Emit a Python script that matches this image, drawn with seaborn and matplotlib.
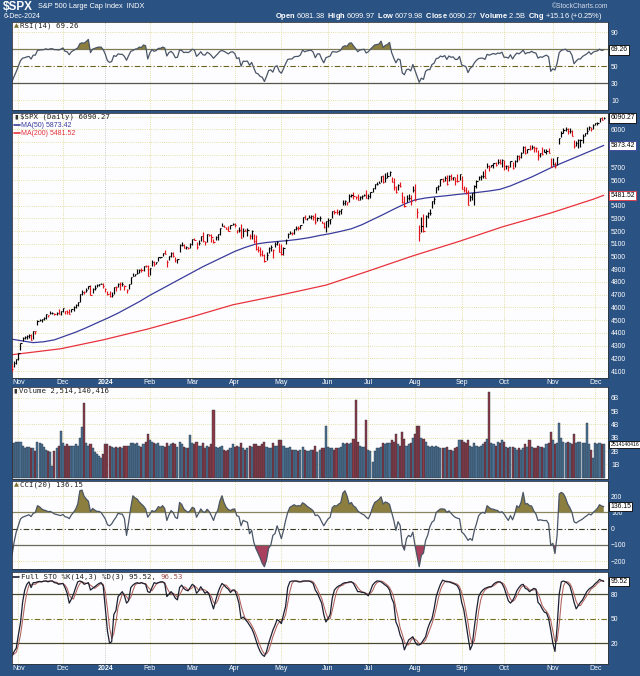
import numpy as np
import pandas as pd
import matplotlib
matplotlib.use("Agg")
import matplotlib.pyplot as plt
import matplotlib.transforms as mtransforms
import seaborn as sns

# ---------------------------------------------------------------- data
first_day = "2023-10-27"
last_day = "2024-12-06"
market_holidays = ["2023-11-23", "2023-12-25", "2024-01-01", "2024-01-15", "2024-02-19",
                   "2024-03-29", "2024-05-27", "2024-06-19", "2024-07-04", "2024-09-02",
                   "2024-11-28"]
prev_close_before_first = 4137.23

closes = [
    4117.37, 4166.82, 4193.80,
    4237.86, 4317.78, 4358.34, 4365.98, 4378.38, 4382.78, 4347.35, 4415.24, 4411.55, 4495.70,
    4502.88, 4508.24, 4514.02, 4547.38, 4538.19, 4556.62, 4559.34, 4550.43, 4554.89, 4550.58, 4567.80,
    4594.63, 4569.78, 4567.18, 4549.34, 4585.59, 4604.37, 4622.44, 4643.70, 4707.09, 4719.55,
    4719.19, 4740.56, 4768.37, 4698.35, 4746.75, 4754.63, 4774.75, 4781.58, 4783.35, 4769.83,
    4742.83, 4704.81, 4688.68, 4697.24, 4763.54, 4756.50, 4783.45, 4780.24, 4783.83, 4765.98,
    4739.21, 4780.94, 4839.81, 4850.43, 4864.60, 4868.55, 4894.16, 4890.97, 4927.93, 4924.97, 4845.65,
    4906.19, 4958.61, 4942.81, 4954.23, 4995.06, 4997.91, 5026.61, 5021.84, 4953.17, 5000.62,
    5029.73, 5005.57, 4975.51, 4981.80, 5087.03, 5088.80, 5069.53, 5078.18, 5069.76, 5096.27,
    5137.08, 5130.95, 5078.65, 5104.76, 5157.36, 5123.69, 5117.94, 5175.27, 5165.31, 5150.48,
    5117.09, 5149.42, 5178.51, 5224.62, 5241.53, 5234.18, 5218.19, 5203.58, 5248.49, 5254.35,
    5243.77, 5205.81, 5211.49, 5147.21, 5204.34, 5202.39, 5209.91, 5160.64, 5199.06, 5123.41, 5061.82,
    5051.41, 5022.21, 5011.12, 4967.23, 5010.60, 5070.55, 5071.63, 5048.42, 5099.96, 5116.17, 5035.69,
    5018.39, 5064.20, 5127.79, 5180.74, 5187.70, 5187.67, 5214.08, 5222.68, 5221.42, 5246.68, 5308.15,
    5297.10, 5303.27, 5308.13, 5321.41, 5307.01, 5267.84, 5304.72, 5306.04, 5266.95, 5235.48, 5277.51,
    5283.40, 5291.34, 5354.03, 5352.96, 5346.99, 5360.79, 5375.32, 5421.03, 5433.74, 5431.60,
    5473.23, 5487.03, 5473.17, 5464.62, 5447.87, 5469.30, 5477.90, 5482.87, 5460.48,
    5475.09, 5509.01, 5537.02, 5567.19, 5572.85, 5576.98, 5633.91, 5584.54, 5615.35, 5631.22, 5667.20,
    5588.27, 5544.59, 5505.00, 5564.41, 5555.74, 5427.13, 5399.22, 5459.10, 5463.54, 5436.44, 5522.30,
    5446.68, 5346.56, 5186.33, 5240.03, 5199.50, 5319.31, 5344.16, 5344.39, 5434.43, 5455.21, 5543.22,
    5554.25, 5608.25, 5597.12, 5620.85, 5570.64, 5634.61, 5616.84, 5625.80, 5592.18, 5591.96, 5648.40,
    5528.93, 5520.07, 5503.41, 5408.42, 5471.05, 5495.52, 5554.13, 5595.76, 5626.02, 5633.09,
    5634.58, 5618.26, 5713.64, 5702.55, 5718.57, 5732.93, 5722.26, 5745.37, 5738.17, 5762.48,
    5708.75, 5709.54, 5699.94, 5751.07, 5695.94, 5751.13, 5792.04, 5780.05, 5815.03, 5859.85, 5815.26,
    5842.47, 5841.47, 5864.67, 5853.98, 5851.20, 5797.42, 5809.86, 5808.12, 5823.52, 5832.92, 5813.67, 5705.45,
    5728.80, 5712.69, 5782.76, 5929.04, 5973.10, 5995.54, 6001.35, 5983.99, 5985.38, 5949.17,
    5870.62, 5893.62, 5916.98, 5917.11, 5948.71, 5969.34, 5987.37, 6021.63, 5998.74, 6032.38,
    6047.15, 6049.88, 6086.49, 6075.11, 6090.27,
]
highs = [
    4156, 4177, 4195,
    4245, 4320, 4366, 4372, 4386, 4392, 4393, 4418, 4414, 4503, 4511, 4509, 4521, 4549, 4543, 4568, 4560, 4556, 4562, 4588, 4570,
    4598, 4575, 4578, 4590, 4590, 4610, 4623, 4644, 4709, 4738, 4725, 4749, 4769, 4779, 4749, 4773, 4785, 4785, 4793, 4789,
    4755, 4730, 4727, 4721, 4764, 4766, 4790, 4798, 4803, 4779, 4744, 4786, 4842, 4868, 4866, 4903, 4898, 4907, 4929, 4932, 4932,
    4907, 4975, 4963, 4957, 4999, 5000, 5031, 5048, 4971, 5003, 5032, 5039, 4993, 4983, 5097, 5111, 5097, 5080, 5077, 5105,
    5141, 5149, 5114, 5127, 5160, 5190, 5125, 5179, 5179, 5179, 5137, 5165, 5180, 5226, 5261, 5246, 5229, 5236, 5249, 5264,
    5263, 5208, 5229, 5256, 5222, 5219, 5224, 5178, 5211, 5179, 5168, 5079, 5077, 5049, 5019, 5038, 5077, 5089, 5057, 5114, 5123, 5110,
    5096, 5073, 5140, 5181, 5200, 5191, 5215, 5239, 5238, 5250, 5311, 5325, 5305, 5325, 5325, 5329, 5342, 5311, 5315, 5282, 5270, 5281,
    5302, 5298, 5355, 5362, 5376, 5366, 5376, 5447, 5442, 5432, 5488, 5490, 5506, 5478, 5490, 5472, 5483, 5491, 5524,
    5490, 5509, 5539, 5570, 5583, 5590, 5635, 5642, 5655, 5666, 5669, 5622, 5614, 5557, 5571, 5585, 5509, 5479, 5482, 5488, 5487, 5552,
    5567, 5383, 5250, 5312, 5331, 5327, 5351, 5371, 5437, 5464, 5546, 5561, 5609, 5620, 5633, 5643, 5642, 5651, 5628, 5628, 5647, 5651,
    5636, 5552, 5547, 5522, 5485, 5497, 5560, 5600, 5636, 5637, 5670, 5690, 5734, 5716, 5721, 5735, 5741, 5767, 5764, 5763,
    5757, 5720, 5718, 5753, 5739, 5757, 5796, 5796, 5823, 5871, 5870, 5846, 5878, 5879, 5866, 5863, 5834, 5817, 5863, 5842, 5848, 5851, 5775,
    5773, 5741, 5783, 5933, 5983, 6012, 6018, 6008, 6009, 5993, 5916, 5909, 5925, 5920, 5964, 5972, 6020, 6026, 6020, 6044,
    6053, 6055, 6087, 6095, 6100,
]
lows = [
    4103, 4133, 4153,
    4187, 4268, 4334, 4348, 4355, 4363, 4344, 4353, 4389, 4458, 4495, 4485, 4500, 4511, 4525, 4545, 4552, 4541, 4541, 4548, 4537,
    4561, 4547, 4551, 4546, 4565, 4575, 4594, 4613, 4643, 4694, 4705, 4721, 4743, 4697, 4717, 4737, 4758, 4769, 4780, 4752,
    4723, 4700, 4683, 4683, 4703, 4730, 4757, 4740, 4769, 4739, 4714, 4743, 4785, 4845, 4843, 4865, 4869, 4881, 4888, 4917, 4845,
    4854, 4928, 4928, 4939, 4966, 4987, 5002, 5017, 4920, 4970, 5000, 4999, 4954, 4947, 5039, 5082, 5069, 5057, 5058, 5068,
    5094, 5127, 5057, 5092, 5121, 5117, 5092, 5115, 5161, 5114, 5104, 5131, 5131, 5172, 5240, 5229, 5216, 5203, 5214, 5247,
    5229, 5184, 5196, 5146, 5157, 5198, 5160, 5138, 5138, 5108, 5053, 5033, 5007, 5001, 4953, 4969, 5028, 5047, 4990, 5073, 5089, 5035,
    5013, 5012, 5099, 5142, 5178, 5166, 5180, 5210, 5206, 5217, 5264, 5296, 5284, 5299, 5296, 5287, 5257, 5279, 5279, 5262, 5222, 5191,
    5234, 5257, 5302, 5335, 5331, 5325, 5331, 5403, 5403, 5404, 5429, 5470, 5455, 5452, 5447, 5446, 5451, 5473, 5458,
    5452, 5462, 5510, 5531, 5563, 5574, 5586, 5576, 5584, 5614, 5631, 5584, 5523, 5497, 5521, 5550, 5419, 5390, 5431, 5444, 5403, 5505,
    5434, 5303, 5119, 5194, 5192, 5229, 5306, 5324, 5378, 5416, 5501, 5526, 5555, 5584, 5591, 5561, 5590, 5603, 5602, 5561, 5585, 5604,
    5527, 5504, 5490, 5403, 5435, 5442, 5407, 5535, 5601, 5605, 5614, 5615, 5697, 5674, 5701, 5697, 5712, 5727, 5727, 5704,
    5677, 5684, 5675, 5703, 5684, 5701, 5745, 5762, 5775, 5817, 5804, 5810, 5840, 5846, 5824, 5822, 5762, 5784, 5799, 5823, 5803, 5813, 5703,
    5723, 5697, 5723, 5884, 5938, 5971, 5986, 5965, 5969, 5944, 5854, 5865, 5850, 5860, 5894, 5944, 5963, 5992, 5984, 6005,
    6035, 6035, 6060, 6075, 6080,
]
volume_b = [
    2.6, 2.6, 2.7,
    2.7, 2.7, 2.4, 2.2, 2.3, 2.3, 2.2, 2.2, 2.0, 2.7, 2.6, 2.5, 2.3, 2.1, 2.0, 1.9, 0.9, 2.0, 2.2, 2.4, 3.5,
    2.6, 2.4, 2.5, 2.4, 2.4, 2.4, 2.5, 2.4, 3.0, 3.8, 5.6, 2.6, 2.4, 2.5, 2.2, 1.9, 1.8, 1.6, 1.5, 1.8,
    2.5, 2.5, 2.4, 2.3, 2.2, 2.3, 2.2, 2.3, 2.2, 2.4, 2.4, 2.4, 2.6, 2.6, 2.5, 2.6, 2.4, 2.3, 2.5, 2.7, 3.3,
    2.8, 2.7, 2.6, 2.5, 2.6, 2.4, 2.4, 2.3, 2.6, 2.4, 2.5, 2.6, 2.5, 2.3, 2.7, 2.5, 2.3, 2.2, 2.2, 3.2,
    2.6, 2.5, 2.7, 2.4, 2.4, 2.6, 2.2, 2.4, 2.3, 2.5, 5.1, 2.3, 2.2, 2.3, 2.4, 2.1, 2.0, 2.1, 2.2, 2.5,
    2.3, 2.4, 2.3, 2.6, 2.2, 2.1, 2.2, 2.4, 2.3, 2.5, 2.5, 2.4, 2.4, 2.5, 2.7, 2.3, 2.2, 2.2, 2.6, 2.4, 2.4, 2.8,
    2.8, 2.4, 2.2, 2.2, 2.3, 2.1, 2.1, 2.1, 2.0, 2.1, 2.3, 2.1, 2.0, 2.0, 2.1, 2.1, 2.4, 1.9, 2.1, 2.2, 2.2, 3.9,
    2.3, 2.2, 2.2, 2.1, 2.2, 2.2, 2.3, 2.6, 2.5, 2.6, 2.5, 2.6, 2.9, 5.8, 2.7, 2.4, 2.3, 2.3, 4.3,
    2.1, 2.0, 1.2, 2.0, 2.2, 2.2, 2.3, 2.6, 2.5, 2.6, 2.6, 2.8, 2.7, 3.3, 2.5, 2.4, 3.4, 2.9, 2.4, 2.5, 2.6, 3.0,
    3.3, 3.9, 3.9, 3.0, 2.9, 2.7, 2.4, 2.3, 2.4, 2.3, 2.4, 2.3, 2.2, 2.2, 2.2, 2.3, 2.1, 2.1, 2.0, 2.2, 2.3, 2.8,
    2.8, 2.7, 2.6, 2.8, 2.4, 2.3, 2.6, 2.4, 2.3, 2.4, 2.5, 2.7, 2.9, 6.4, 2.6, 2.5, 2.4, 2.7, 2.6, 2.8,
    2.7, 2.3, 2.2, 2.3, 2.3, 2.2, 2.1, 2.2, 2.1, 2.2, 2.5, 2.3, 2.8, 2.3, 2.2, 2.2, 2.4, 2.3, 2.3, 2.2, 2.5, 2.6, 3.4,
    2.8, 2.5, 2.6, 4.1, 3.0, 2.7, 2.6, 2.7, 2.6, 2.5, 3.3, 2.6, 2.7, 2.7, 2.6, 2.6, 4.1, 2.5, 2.1, 1.5,
    2.6, 2.5, 2.6, 2.5, 2.514140416,
]
ma50_day = [0, 5, 10, 15, 20, 25, 30, 35, 40, 45, 50, 55, 60, 65, 70, 75, 80, 85, 90, 95, 100, 105, 110,
            115, 120, 125, 130, 135, 140, 145, 150, 155, 160, 165, 170, 175, 180, 185, 190, 195, 200, 205,
            210, 215, 220, 225, 230, 235, 240, 245, 250, 255, 260, 265, 270, 275, 279]
ma50_val = [4350, 4336, 4323, 4330, 4345, 4375, 4405, 4440, 4478, 4515, 4555, 4600, 4645, 4695, 4740,
            4785, 4830, 4875, 4920, 4960, 5000, 5040, 5072, 5098, 5110, 5118, 5125, 5135, 5148, 5165,
            5180, 5198, 5218, 5250, 5290, 5330, 5372, 5412, 5445, 5460, 5470, 5478, 5488, 5496, 5505,
            5515, 5528, 5555, 5590, 5625, 5665, 5705, 5740, 5775, 5810, 5845, 5873.42]
ma200_day = [0, 23, 43, 64, 84, 104, 126, 148, 167, 189, 211, 231, 254, 274, 279]
ma200_val = [4228, 4275, 4345, 4430, 4522, 4620, 4695, 4775, 4880, 5005, 5120, 5232, 5342, 5450, 5481.52]
rsi14 = [
    32, 38, 43.6, 50, 56.5, 59.5, 60, 61, 61.5, 58.5, 63, 63, 68.5, 69, 69.2, 69.5, 70.5, 69.5, 70.5, 70.5, 69.5, 69.5, 69, 70,
    71.5, 67.5, 67, 63.5, 67, 68.5, 70, 71.5, 76.5, 77.5, 77, 79, 81.5, 66, 70, 71, 72, 72.5, 72.5, 69.5,
    64, 56.5, 54.5, 55.5, 62.5, 61.5, 64.5, 64, 64, 61.5, 57, 62.5, 67.5, 68.5, 70, 70.5, 72.5, 72, 75, 74, 58.5,
    65.5, 69.5, 67.5, 68.5, 71, 71, 72.5, 71.5, 62, 66, 67.5, 65, 60, 60.5, 69, 68.5, 66, 66.5, 66, 67.5,
    70, 69, 61.6, 64, 67, 63.5, 63, 66.4, 65, 62.5, 59.3, 62, 64.5, 67.5, 68.5, 67.5, 66, 64.5, 66.5, 67,
    65, 59, 60, 50, 56, 55.7, 56, 51, 54.5, 48, 42, 41, 38, 37, 32, 38, 45, 45.6, 43, 49.5, 50.5, 44,
    41.7, 47, 53, 58, 58.5, 58.5, 61, 61.5, 61.5, 63.3, 69, 67, 68, 68.4, 69, 66.5, 60, 64.5, 64.5, 58.5, 54, 60,
    61, 62, 67, 67, 66.5, 67.5, 69, 73, 74, 73.5, 77, 77.5, 74, 71, 67, 69, 69.5, 70, 65.5,
    67, 70, 72.5, 75, 75.5, 76, 79.5, 72, 74.5, 75.5, 78, 66, 59.5, 54, 58.5, 57.5, 42, 40, 46, 46.5, 44.5, 52,
    45, 38, 31, 36, 34.5, 44, 46, 46, 52, 53.5, 59, 59.5, 62, 61, 62.5, 58, 62, 60.5, 61, 58, 58, 61.5,
    51.5, 50.5, 49.5, 42.5, 47.5, 49.5, 54, 57, 59, 59.5, 59.5, 58, 64, 63, 64, 65, 64, 65.5, 65, 66.5,
    60.5, 60.5, 59.5, 63.5, 58.5, 62.5, 65.5, 64.5, 66.5, 69, 64.5, 66, 66, 67.5, 66, 65.5, 59.5, 61, 60.5, 62, 63, 61, 44,
    47, 45.5, 53.5, 66, 68.5, 69.5, 70, 67.5, 67.5, 63, 53, 56, 58.5, 58.5, 61.5, 63, 64.5, 67, 64, 66.5,
    67.5, 68, 70, 68.5, 69.26,
]
cci20 = [
    -165, -82, -20, 20, 60, 71, 76, 81, 86, 75, 95, 100, 142, 135, 122, 115, 112, 105, 107, 100, 91, 88, 84, 81,
    88, 74, 71, 62, 85, 101, 120, 152, 234, 238, 200, 183, 170, 105, 125, 115, 107, 107, 100, 81,
    60, 25, 18, 30, 52, 70, 95, 91, 90, 63, -41, 40, 130, 203, 190, 183, 165, 152, 140, 122, 71,
    90, 112, 105, 115, 136, 130, 142, 125, 51, 85, 112, 100, 70, 63, 162, 150, 122, 110, 101, 112,
    132, 125, 71, 95, 122, 105, 101, 120, 105, 80, 51, 90, 112, 170, 203, 160, 132, 118, 112, 120,
    122, 80, 75, 18, 52, 45, 40, -31, -10, -82, -122, -150, -180, -213, -234, -193, -120, -102, -41, -30, 18, -20,
    -61, -10, 51, 100, 132, 140, 148, 140, 142, 140, 160, 152, 140, 130, 122, 110, 81, 85, 70, 43, 18, 40,
    60, 71, 130, 142, 140, 152, 160, 220, 234, 200, 152, 162, 140, 132, 110, 100, 91, 85, 71,
    61, 90, 132, 162, 170, 180, 197, 152, 165, 160, 150, 101, 52, -10, 43, 20, -102, -132, -60, -41, -50, -21,
    -102, -170, -234, -163, -150, -72, -40, 12, 40, 51, 100, 112, 122, 122, 120, 101, 110, 95, 81, 70, 65, 61,
    -20, -31, -50, -72, -60, -72, -10, 32, 80, 95, 101, 95, 142, 130, 122, 120, 115, 112, 100, 105,
    91, 70, 51, 81, 55, 90, 142, 130, 162, 224, 152, 155, 142, 140, 110, 91, 51, 55, 52, 50, 51, 30, -102,
    -90, -153, -41, 214, 224, 215, 190, 152, 130, 101, 43, 35, 45, 52, 60, 71, 80, 91, 85, 100,
    112, 125, 148, 140, 136.15,
]
sto_k = [
    4, 10, 14, 30, 45, 70, 85, 92, 95, 88, 94, 94, 95, 95.5, 95, 96, 96, 95, 96, 96, 94, 93.5, 92, 92.5,
    93, 88, 81, 69, 74, 80, 88, 95, 96, 95, 92, 93, 94, 85, 87, 89, 91, 93, 94, 90,
    62, 35, 20, 22, 55, 60, 77, 80, 83, 78, 69, 72, 88, 91, 93, 94, 93, 94, 93, 92, 83,
    82, 88, 94, 93, 94, 95, 95, 93, 77, 80, 83, 80, 75, 73, 88, 91, 87, 85, 84, 88,
    92, 90, 81, 84, 89, 85, 81, 83, 79, 70, 62, 72, 81, 88, 93, 91, 88, 86, 82, 85,
    85, 78, 69, 50, 52, 49, 46, 42, 38, 32, 24, 16, 10, 6, 4, 10, 20, 28, 36, 42, 49, 47,
    44, 55, 65, 88, 95, 96, 96, 96, 95, 95, 96, 96, 96, 96, 95, 93, 85, 81, 75, 69, 55, 46,
    50, 55, 75, 85, 88, 90, 91, 93, 94, 94, 95, 95, 93, 88, 83, 83, 82, 82, 80,
    78, 84, 91, 94, 96, 96, 95, 93, 91, 89, 85, 75, 69, 46, 40, 30, 24, 12, 18, 24, 26, 28,
    22, 18, 18, 20, 24, 28, 38, 45, 50, 62, 77, 85, 92, 97, 96, 95, 95, 94, 93, 92, 90, 85,
    70, 61, 45, 28, 12, 18, 40, 60, 77, 82, 85, 87, 88, 89, 89, 92, 94, 95, 95, 93,
    88, 80, 72, 69, 72, 77, 84, 88, 91, 92, 87, 86, 83, 85, 87, 86, 70, 67, 62, 58, 57, 50, 36,
    20, 10, 40, 80, 95, 96, 95, 93, 90, 81, 70, 62, 66, 70, 73, 78, 83, 86, 88, 90,
    93, 95, 98, 96.5, 95.52,
]
sto_d = [
    5, 7, 9, 18, 30, 48, 67, 82, 91, 92, 92, 92, 94, 95, 95, 95.5, 96, 96, 96, 96, 95, 94.5, 93, 93,
    93, 91, 87, 79, 75, 74, 81, 88, 93, 95, 94, 93, 93, 91, 89, 87, 89, 91, 93, 92,
    82, 62, 39, 26, 32, 46, 64, 72, 80, 80, 77, 73, 76, 84, 91, 93, 93, 94, 93, 93, 89,
    86, 84, 88, 92, 94, 94, 95, 94, 88, 83, 80, 81, 79, 76, 79, 84, 89, 88, 85, 86,
    88, 90, 88, 85, 85, 86, 85, 83, 81, 77, 70, 68, 72, 80, 87, 91, 91, 88, 85, 84,
    84, 83, 77, 66, 57, 50, 49, 46, 42, 37, 31, 24, 17, 11, 7, 7, 11, 19, 28, 35, 42, 46,
    47, 49, 55, 69, 83, 93, 96, 96, 96, 95, 95, 96, 96, 96, 96, 95, 91, 86, 80, 75, 66, 57,
    50, 50, 60, 72, 83, 88, 90, 91, 93, 94, 94, 95, 94, 92, 88, 85, 83, 82, 81,
    80, 81, 84, 90, 94, 95, 96, 95, 93, 91, 88, 83, 76, 63, 52, 39, 31, 22, 18, 18, 23, 26,
    25, 23, 19, 19, 21, 24, 30, 37, 44, 52, 63, 75, 85, 91, 95, 96, 95, 95, 94, 93, 92, 89,
    82, 72, 59, 45, 28, 19, 23, 39, 59, 73, 81, 85, 87, 88, 89, 90, 92, 94, 95, 94,
    92, 87, 80, 74, 71, 73, 78, 83, 88, 90, 90, 88, 85, 85, 85, 86, 81, 74, 66, 62, 59, 55, 48,
    35, 22, 23, 43, 72, 90, 95, 95, 93, 88, 80, 71, 66, 66, 70, 74, 78, 82, 86, 88,
    90, 93, 95, 96.5, 96.53,
]
month_labels = ["Nov", "Dec", "2024", "Feb", "Mar", "Apr", "May", "Jun", "Jul", "Aug", "Sep",
                "Oct", "Nov", "Dec"]
last_open, last_high, last_low = 6081.38, 6099.97, 6079.98
last_volume = 2514140416
symbol, long_name, exchange = "$SPX", "S&P 500 Large Cap Index", "INDX"
chart_date = "6-Dec-2024"

# ---------------------------------------------------------------- style
sns.set_theme(style="white")
plt.rcParams["font.family"] = ["Liberation Sans", "DejaVu Sans"]
plt.rcParams["mathtext.fontset"] = "custom"
plt.rcParams["mathtext.rm"] = "Liberation Sans"
plt.rcParams["mathtext.bf"] = "Liberation Sans:bold"

BG = "#2a5283"
PANEL_BG = "#fdfdff"
SPINE = "#30343a"
GRID = "#dcd98a"
OLIVE = "#8b7e3e"
CRIMSON = "#a8405e"
UP_BAR, DOWN_BAR = "#000000", "#e4161c"
UP_VOL, DOWN_VOL = "#4a7294", "#8e3a46"
MONO = ["DejaVu Sans Mono"]
TICK_FS = 4.9

FW, FH = 640.0, 676.0
LEFT, WIDTH = 12.0, 596.0
X_LO, X_HI = 0.0, 281.0

dates = pd.bdate_range(first_day, last_day)
dates = dates[~dates.isin(pd.to_datetime(market_holidays))]
n = len(closes)
assert len(dates) == n == len(highs) == len(lows) == len(volume_b) == len(rsi14) == len(cci20) == len(sto_k) == len(sto_d)
day = np.arange(n)
new_month = np.r_[False, np.asarray(dates.month[1:] != dates.month[:-1])]
month_days = day[new_month]
year_day = day[new_month & np.asarray(dates.month == 1)]

closes_a = np.array(closes)
prev = np.r_[prev_close_before_first, closes_a[:-1]]
is_up = closes_a >= prev

fig = plt.figure(figsize=(6.4, 6.76), dpi=100, facecolor=BG)


def fx(px):
    return px / FW


def fy(py):
    return 1 - py / FH


def make_panel(top, bottom):
    ax = fig.add_axes([LEFT / FW, 1 - bottom / FH, WIDTH / FW, (bottom - top) / FH])
    ax.set_facecolor(PANEL_BG)
    return ax


def finish_panel(ax, ylim, yticks, yticklabels=None, hgrid=()):
    ax.set_xlim(X_LO, X_HI)
    ax.set_ylim(*ylim)
    for s in ax.spines.values():
        s.set_color(SPINE)
        s.set_linewidth(0.6)
        s.set_visible(True)
    ax.set_xlabel("")
    ax.set_ylabel("")
    ax.yaxis.tick_right()
    ax.set_yticks(yticks)
    if yticklabels is not None:
        ax.set_yticklabels(yticklabels)
    ax.tick_params(axis="y", which="both", length=0, pad=2.2, labelsize=TICK_FS,
                   labelcolor="white", left=False, labelleft=False, right=True, labelright=True)
    ax.set_xticks(month_days)
    ax.set_xticklabels([])
    ax.tick_params(axis="x", length=0, bottom=False, labelbottom=False)
    ax.grid(False)
    for m in month_days:
        col = "#b8b8b8" if m in year_day else GRID
        ax.axvline(m, color=col, lw=0.6, ls=(0, (1, 1.6)), zorder=0.5)
    for h in hgrid:
        ax.axhline(h, color=GRID, lw=0.6, ls=(0, (1, 1.6)), zorder=0.5)


def value_box(ax, y, text, ec="black", tc="black", fs=4.9):
    tr = mtransforms.blended_transform_factory(ax.transAxes, ax.transData)
    ax.text(1.004, y, text, transform=tr, ha="left", va="center", fontsize=fs,
            color=tc, clip_on=False, zorder=10,
            bbox=dict(boxstyle="square,pad=0.18", fc="white", ec=ec, lw=0.6))


def month_ticklabels(ax):
    ax.set_xticks(month_days)
    ax.set_xticklabels(month_labels)
    ax.tick_params(axis="x", length=0, bottom=True, labelbottom=True, labelsize=5.0,
                   labelcolor="white", pad=0.8)
    for lab in ax.get_xticklabels():
        if lab.get_text() == "2024":
            lab.set_fontweight("bold")


# ---------------------------------------------------------------- RSI
ax_rsi = make_panel(22, 110)
rsi_a = np.array(rsi14, dtype=float)
ax_rsi.fill_between(day, rsi_a, 70, where=rsi_a >= 70, interpolate=True, color=OLIVE, lw=0, zorder=1)
ax_rsi.fill_between(day, rsi_a, 30, where=rsi_a <= 30, interpolate=True, color=CRIMSON, lw=0, zorder=1)
ax_rsi.axhline(70, color="#7d7a55", lw=0.9, zorder=1.5)
ax_rsi.axhline(30, color="#55554a", lw=0.9, zorder=1.5)
ax_rsi.axhline(50, color="#6b6520", lw=0.8, ls=(0, (5, 2, 1, 2)), zorder=1.5)
sns.lineplot(x=day, y=rsi_a, ax=ax_rsi, color="#4a5566", lw=0.9, zorder=2)
finish_panel(ax_rsi, (-1.5, 102), [10, 30, 50, 90], hgrid=(10, 90))
value_box(ax_rsi, rsi_a[-1], f"{rsi_a[-1]:.2f}")

# ---------------------------------------------------------------- price
ax_p = make_panel(112.5, 378)
sns.lineplot(x=ma50_day, y=ma50_val, ax=ax_p, color="#3a3c9c", lw=0.9, zorder=2)
sns.lineplot(x=ma200_day, y=ma200_val, ax=ax_p, color="#e8323c", lw=0.9, zorder=2)
bar_cols = np.where(is_up, UP_BAR, DOWN_BAR)
ax_p.vlines(day, lows, highs, colors=bar_cols, lw=0.85, zorder=3)
ax_p.hlines(closes_a, day, day + 0.55, colors=bar_cols, lw=0.8, zorder=3)
price_ticks = [t for t in range(4100, 6101, 100) if t not in (5500, 5800, 5900, 6100)]
finish_panel(ax_p, (4045, 6132), price_ticks, [str(t) for t in price_ticks],
             hgrid=range(4100, 6101, 100))
month_ticklabels(ax_p)
value_box(ax_p, closes_a[-1], f"{closes_a[-1]:.2f}")
value_box(ax_p, ma50_val[-1], f"{ma50_val[-1]:.2f}", ec="#3a3c9c")
value_box(ax_p, ma200_val[-1], f"{ma200_val[-1]:.2f}", ec="#e8323c")

# ---------------------------------------------------------------- volume
ax_v = make_panel(387, 479)
vol_df = pd.DataFrame({"day": day, "vol": volume_b, "dir": np.where(is_up, "up", "down")})
sns.barplot(data=vol_df, x="day", y="vol", hue="dir", palette={"up": UP_VOL, "down": DOWN_VOL},
            dodge=False, width=0.98, saturation=1, legend=False, ax=ax_v, zorder=2,
            edgecolor="#2c3440", linewidth=0.3)
finish_panel(ax_v, (-0.1, 6.8), [1, 2, 3, 4, 5, 6], ["1B", "2B", "3B", "4B", "5B", "6B"],
             hgrid=(1, 2, 3, 4, 5, 6))
value_box(ax_v, volume_b[-1], f"{last_volume}", fs=3.7)

# ---------------------------------------------------------------- CCI
ax_c = make_panel(481, 569)
cci_a = np.array(cci20, dtype=float)
ax_c.fill_between(day, cci_a, 100, where=cci_a >= 100, interpolate=True, color=OLIVE, lw=0, zorder=1)
ax_c.fill_between(day, cci_a, -100, where=cci_a <= -100, interpolate=True, color=CRIMSON, lw=0, zorder=1)
ax_c.axhline(100, color="#8a8760", lw=0.9, zorder=1.5)
ax_c.axhline(-100, color="#6a6a5a", lw=0.9, zorder=1.5)
ax_c.axhline(0, color="#3a3a20", lw=0.8, ls=(0, (5, 2, 1, 2)), zorder=1.5)
sns.lineplot(x=day, y=cci_a, ax=ax_c, color="#4a5566", lw=0.9, zorder=2)
finish_panel(ax_c, (-248, 294), [-200, -100, 0, 100, 200], hgrid=(-200, 200))
value_box(ax_c, cci_a[-1], f"{cci_a[-1]:.2f}")

# ---------------------------------------------------------------- Full STO
ax_s = make_panel(572, 664)
ax_s.axhline(80, color="#4a4a2e", lw=0.9, zorder=1.5)
ax_s.axhline(20, color="#4a4a2e", lw=0.9, zorder=1.5)
ax_s.axhline(50, color="#7a7020", lw=0.8, ls=(0, (5, 2, 1, 2)), zorder=1.5)
sns.lineplot(x=day, y=sto_d, ax=ax_s, color="#b0605a", lw=0.75, zorder=2)
sns.lineplot(x=day, y=sto_k, ax=ax_s, color="#1c2030", lw=0.9, zorder=2.5)
finish_panel(ax_s, (-5.3, 107), [20, 50, 80])
month_ticklabels(ax_s)
value_box(ax_s, sto_k[-1], f"{sto_k[-1]:.2f}")

# ---------------------------------------------------------------- legends inside panels
def legend_line(x, y, parts, icon=None, icon_color="#555"):
    if icon is not None:
        fig.text(fx(x), fy(y), icon, fontsize=4.6, color=icon_color, ha="left", va="center",
                 family=["DejaVu Sans"])
        x += 6
    fig.text(fx(x), fy(y), parts, fontsize=5.3, color="#202020", ha="left", va="center",
             family=MONO)


legend_line(14, 25.5, f"RSI(14) {rsi_a[-1]:.2f}", icon="▲", icon_color="#7a6e30")
legend_line(14, 116.8, f"{symbol} (Daily) {closes_a[-1]:.2f}", icon="▮", icon_color="#333")
for yy, label, col in ((125.2, f"MA(50) {ma50_val[-1]:.2f}", "#3a3c9c"),
                       (133.4, f"MA(200) {ma200_val[-1]:.2f}", "#e8323c")):
    fig.lines.append(plt.Line2D([fx(14), fx(20)], [fy(yy), fy(yy)], color=col, lw=1.2,
                                transform=fig.transFigure))
    fig.text(fx(21), fy(yy), label, fontsize=5.0, color=col, ha="left", va="center")
legend_line(13, 391.3, f"Volume {last_volume:,}", icon="▮", icon_color="#333")
legend_line(14, 484.5, f"CCI({20}) {cci_a[-1]:.2f}", icon="▲", icon_color="#7a6e30")
fig.lines.append(plt.Line2D([fx(13), fx(19)], [fy(576.8), fy(576.8)], color="#1c2030", lw=1.2,
                            transform=fig.transFigure))
t1 = fig.text(fx(21), fy(576.8), f"Full STO %K(14,3) %D(3) {sto_k[-1]:.2f}, ", fontsize=5.3,
              color="#202020", ha="left", va="center", family=MONO)
fig.canvas.draw()
bb = t1.get_window_extent()
fig.text(bb.x1 / (FW * fig.dpi / 100), fy(576.8), f"{sto_d[-1]:.2f}", fontsize=5.3,
         color="#a0504a", ha="left", va="center", family=MONO)

# ---------------------------------------------------------------- header
fig.text(fx(3), fy(6.5), symbol, fontsize=8.5, fontweight="bold", color="white", ha="left",
         va="center")
fig.text(fx(38), fy(6.5), f"{long_name}  {exchange}", fontsize=5.3, color="white", ha="left",
         va="center")
fig.text(fx(4), fy(16), chart_date, fontsize=5.0, color="white", ha="left", va="center")
chg = closes_a[-1] - closes_a[-2]
pct = chg / closes_a[-2] * 100
hdr = (r"$\mathbf{Open}$ " + f"{last_open:.2f}  " + r"$\mathbf{High}$ " + f"{last_high:.2f}  "
       + r"$\mathbf{Low}$ " + f"{last_low:.2f}  " + r"$\mathbf{Close}$ " + f"{closes_a[-1]:.2f}  "
       + r"$\mathbf{Volume}$ " + f"{last_volume / 1e9:.1f}B  " + r"$\mathbf{Chg}$ "
       + f"{chg:+.2f} ({pct:+.2f}%)")
fig.text(fx(603), fy(16), hdr, fontsize=5.4, color="white", ha="right", va="center")
fig.text(fx(608), fy(6), "©StockCharts.com", fontsize=4.9, color="#d4dcea", ha="right",
         va="center")

fig.savefig("out.png", dpi=100, facecolor=BG)
